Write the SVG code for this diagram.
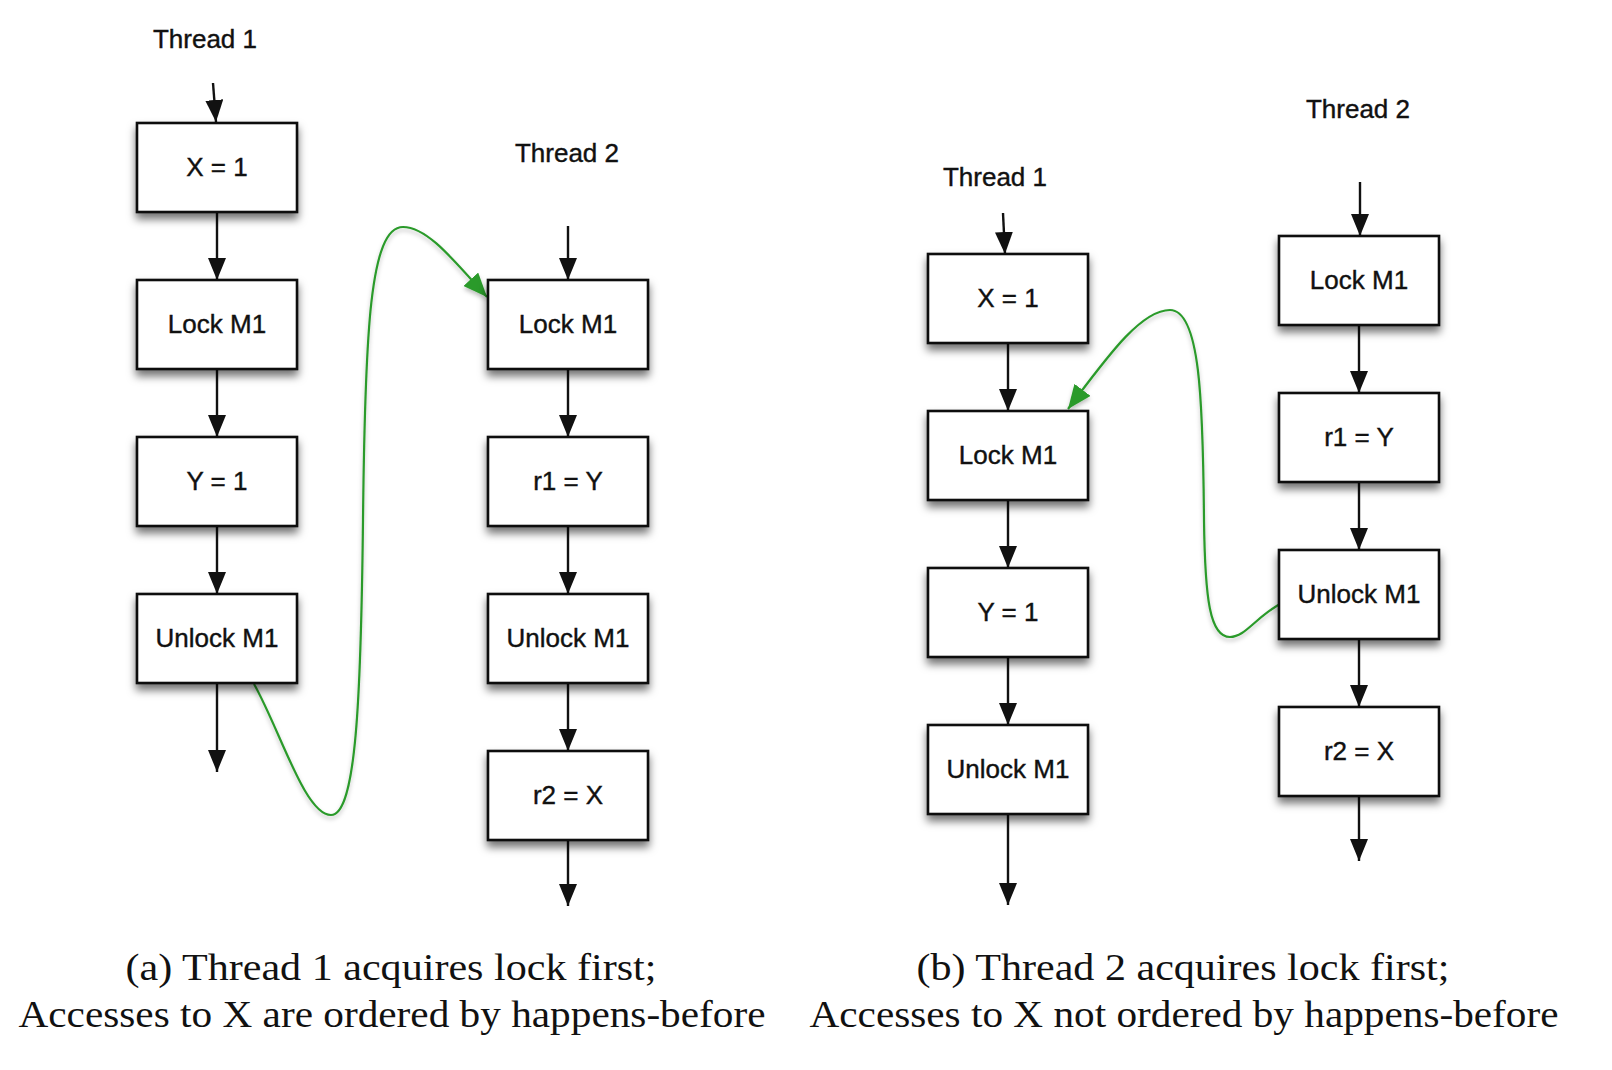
<svg xmlns="http://www.w3.org/2000/svg" width="1612" height="1070" viewBox="0 0 1612 1070">
<defs>
<style>
.box{fill:#fff;stroke:#111;stroke-width:2.6;filter:url(#sh)}
.lbl{font-family:"Liberation Sans",Arial,sans-serif;font-size:26px;fill:#111;stroke:#111;stroke-width:0.4;text-anchor:middle}
.edge{stroke:#111;stroke-width:2.4;fill:none;marker-end:url(#ah)}
.hb{stroke:#2a9a2a;stroke-width:2.2;fill:none;marker-end:url(#gh);filter:url(#csh)}
.cap{font-family:"Liberation Serif","Times New Roman",serif;font-size:37px;fill:#111;text-anchor:middle}
</style>
<filter id="sh" x="-20%" y="-20%" width="140%" height="150%">
<feDropShadow dx="0" dy="6" stdDeviation="4" flood-color="#000" flood-opacity="0.55"/>
</filter>
<filter id="csh" x="-20%" y="-20%" width="140%" height="140%">
<feDropShadow dx="0" dy="3" stdDeviation="2" flood-color="#000" flood-opacity="0.25"/>
</filter>
<marker id="ah" markerUnits="userSpaceOnUse" markerWidth="22" markerHeight="18" viewBox="0 0 22 18" refX="22" refY="9" orient="auto">
<path d="M0,0 L22,9 L0,18 z" fill="#111"/>
</marker>
<marker id="gh" markerUnits="userSpaceOnUse" markerWidth="24" markerHeight="20" viewBox="0 0 24 20" refX="24" refY="10" orient="auto">
<path d="M0,0 L24,10 L0,20 z" fill="#2a9a2a"/>
</marker>
</defs>
<rect width="1612" height="1070" fill="#fff"/>

<g id="connectors">
<!-- (a) thread 1 -->
<line class="edge" x1="213" y1="83" x2="216" y2="122"/>
<line class="edge" x1="217" y1="212" x2="217" y2="280"/>
<line class="edge" x1="217" y1="369" x2="217" y2="437"/>
<line class="edge" x1="217" y1="526" x2="217" y2="594"/>
<line class="edge" x1="217" y1="683" x2="217" y2="772"/>
<!-- (a) thread 2 -->
<line class="edge" x1="568" y1="226" x2="568" y2="280"/>
<line class="edge" x1="568" y1="369" x2="568" y2="437"/>
<line class="edge" x1="568" y1="526" x2="568" y2="594"/>
<line class="edge" x1="568" y1="683" x2="568" y2="751"/>
<line class="edge" x1="568" y1="840" x2="568" y2="906"/>
<!-- (b) thread 1 -->
<line class="edge" x1="1003" y1="213" x2="1005" y2="254"/>
<line class="edge" x1="1008" y1="343" x2="1008" y2="411"/>
<line class="edge" x1="1008" y1="500" x2="1008" y2="568"/>
<line class="edge" x1="1008" y1="657" x2="1008" y2="725"/>
<line class="edge" x1="1008" y1="814" x2="1008" y2="905"/>
<!-- (b) thread 2 -->
<line class="edge" x1="1360" y1="182" x2="1360" y2="236"/>
<line class="edge" x1="1359" y1="325" x2="1359" y2="393"/>
<line class="edge" x1="1359" y1="482" x2="1359" y2="550"/>
<line class="edge" x1="1359" y1="639" x2="1359" y2="707"/>
<line class="edge" x1="1359" y1="796" x2="1359" y2="861"/>
<!-- happens-before edges -->
<path class="hb" d="M254,684 C280,730 305,815 331,815 C356,815 361,700 363,520 C365,330 370,227 403,227 C428,227 455,262 487,297"/>
<path class="hb" d="M1280,604 C1255,618 1245,637 1230,637 C1210,637 1205,600 1204,520 C1203,400 1200,310 1170,310 C1140,310 1105,360 1068,409"/>
</g>

<g id="a-t1-label"><text class="lbl" x="205" y="48">Thread 1</text></g>
<g id="a-t2-label"><text class="lbl" x="567" y="162">Thread 2</text></g>
<g id="b-t1-label"><text class="lbl" x="995" y="186">Thread 1</text></g>
<g id="b-t2-label"><text class="lbl" x="1358" y="118">Thread 2</text></g>

<g id="a-t1-x1"><rect class="box" x="137" y="123" width="160" height="89"/><text class="lbl" x="217" y="176">X = 1</text></g>
<g id="a-t1-lock"><rect class="box" x="137" y="280" width="160" height="89"/><text class="lbl" x="217" y="333">Lock M1</text></g>
<g id="a-t1-y1"><rect class="box" x="137" y="437" width="160" height="89"/><text class="lbl" x="217" y="490">Y = 1</text></g>
<g id="a-t1-unlock"><rect class="box" x="137" y="594" width="160" height="89"/><text class="lbl" x="217" y="647">Unlock M1</text></g>

<g id="a-t2-lock"><rect class="box" x="488" y="280" width="160" height="89"/><text class="lbl" x="568" y="333">Lock M1</text></g>
<g id="a-t2-r1"><rect class="box" x="488" y="437" width="160" height="89"/><text class="lbl" x="568" y="490">r1 = Y</text></g>
<g id="a-t2-unlock"><rect class="box" x="488" y="594" width="160" height="89"/><text class="lbl" x="568" y="647">Unlock M1</text></g>
<g id="a-t2-r2"><rect class="box" x="488" y="751" width="160" height="89"/><text class="lbl" x="568" y="804">r2 = X</text></g>

<g id="b-t1-x1"><rect class="box" x="928" y="254" width="160" height="89"/><text class="lbl" x="1008" y="307">X = 1</text></g>
<g id="b-t1-lock"><rect class="box" x="928" y="411" width="160" height="89"/><text class="lbl" x="1008" y="464">Lock M1</text></g>
<g id="b-t1-y1"><rect class="box" x="928" y="568" width="160" height="89"/><text class="lbl" x="1008" y="621">Y = 1</text></g>
<g id="b-t1-unlock"><rect class="box" x="928" y="725" width="160" height="89"/><text class="lbl" x="1008" y="778">Unlock M1</text></g>

<g id="b-t2-lock"><rect class="box" x="1279" y="236" width="160" height="89"/><text class="lbl" x="1359" y="289">Lock M1</text></g>
<g id="b-t2-r1"><rect class="box" x="1279" y="393" width="160" height="89"/><text class="lbl" x="1359" y="446">r1 = Y</text></g>
<g id="b-t2-unlock"><rect class="box" x="1279" y="550" width="160" height="89"/><text class="lbl" x="1359" y="603">Unlock M1</text></g>
<g id="b-t2-r2"><rect class="box" x="1279" y="707" width="160" height="89"/><text class="lbl" x="1359" y="760">r2 = X</text></g>

<g id="caption-a">
<text class="cap" x="391" y="980" textLength="531" lengthAdjust="spacingAndGlyphs">(a) Thread 1 acquires lock first;</text>
<text class="cap" x="392" y="1027" textLength="747" lengthAdjust="spacingAndGlyphs">Accesses to X are ordered by happens-before</text>
</g>
<g id="caption-b">
<text class="cap" x="1183" y="980" textLength="533" lengthAdjust="spacingAndGlyphs">(b) Thread 2 acquires lock first;</text>
<text class="cap" x="1184" y="1027" textLength="749" lengthAdjust="spacingAndGlyphs">Accesses to X not ordered by happens-before</text>
</g>
</svg>
